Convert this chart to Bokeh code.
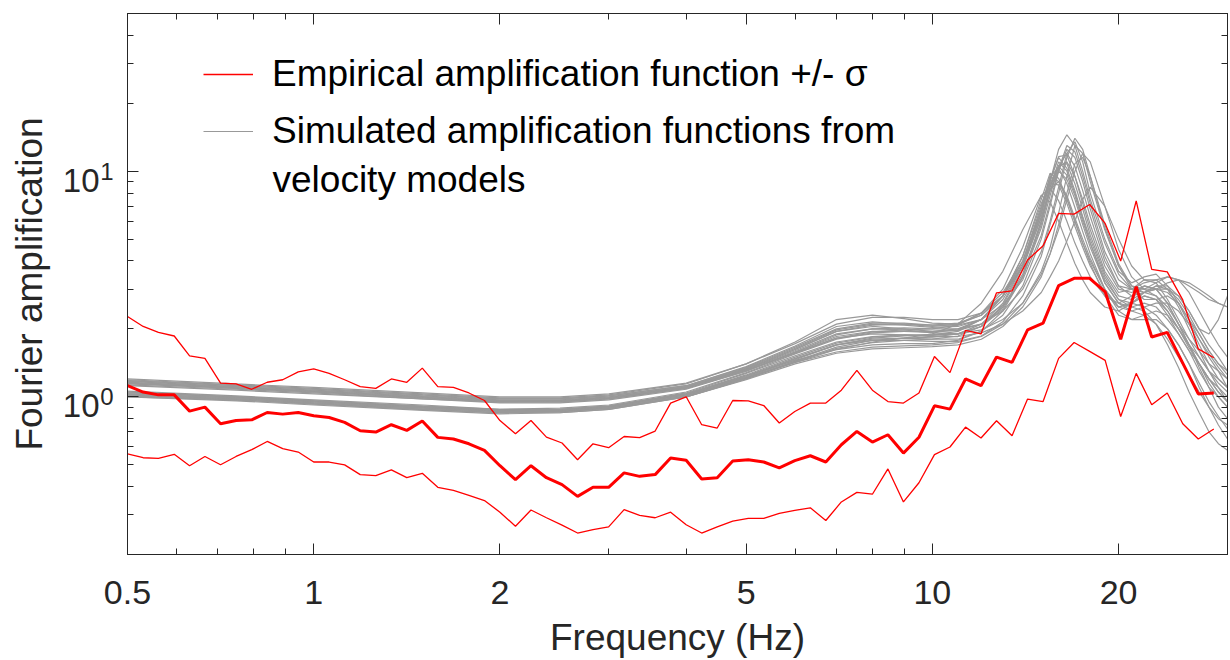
from bokeh.plotting import figure
from bokeh.models import (FixedTicker, LogAxis, CustomJSTickFormatter, Legend,
                          LegendItem, Label, Range1d)
from bokeh.embed import file_html
from bokeh.resources import INLINE

FONT = "Liberation Sans, Arial, Helvetica, sans-serif"
AX = "#262626"

# ---------------- data ----------------
# empirical amplification: 1/12-octave frequencies (Hz)
F_EMP = [0.500, 0.530, 0.561, 0.595, 0.630, 0.667, 0.707, 0.749, 0.794, 0.841,
         0.891, 0.944, 1.000, 1.059, 1.122, 1.189, 1.260, 1.335, 1.414, 1.498,
         1.587, 1.682, 1.782, 1.888, 2.000, 2.119, 2.245, 2.378, 2.520, 2.670,
         2.828, 2.997, 3.175, 3.364, 3.564, 3.775, 4.000, 4.238, 4.490, 4.757,
         5.040, 5.339, 5.657, 5.993, 6.350, 6.727, 7.127, 7.551, 8.000, 8.476,
         8.980, 9.514, 10.079, 10.679, 11.314, 11.986, 12.699, 13.454, 14.254, 15.102,
         16.000, 16.951, 17.959, 19.027, 20.159, 21.357, 22.627, 23.973, 25.398, 26.909,
         28.509]

EMP_MEAN = [1.12, 1.05, 1.02, 1.02, 0.864, 0.900, 0.759, 0.785, 0.791, 0.852,
            0.838, 0.852, 0.824, 0.810, 0.770, 0.707, 0.698, 0.752, 0.710, 0.781,
            0.661, 0.650, 0.619, 0.579, 0.495, 0.429, 0.495, 0.438, 0.408, 0.362,
            0.397, 0.397, 0.460, 0.444, 0.452, 0.535, 0.523, 0.432, 0.438, 0.519,
            0.526, 0.514, 0.484, 0.521, 0.548, 0.514, 0.613, 0.702, 0.630, 0.679,
            0.563, 0.662, 0.912, 0.882, 1.20, 1.12, 1.50, 1.42, 1.98, 2.12,
            3.11, 3.35, 3.35, 2.92, 1.80, 3.08, 1.84, 1.93, 1.41, 1.03,
            1.04]

EMP_PLUS = [2.27, 2.05, 1.93, 1.86, 1.52, 1.48, 1.15, 1.14, 1.08, 1.16,
            1.19, 1.29, 1.33, 1.27, 1.19, 1.11, 1.09, 1.20, 1.16, 1.34,
            1.11, 1.10, 1.04, 0.963, 0.785, 0.686, 0.785, 0.663, 0.624, 0.526,
            0.619, 0.595, 0.667, 0.659, 0.705, 0.938, 1.00, 0.752, 0.727, 0.963,
            0.960, 0.915, 0.765, 0.861, 0.938, 0.938, 1.07, 1.31, 1.07, 0.953,
            0.938, 1.04, 1.51, 1.28, 1.97, 1.90, 2.89, 2.95, 4.04, 4.67,
            6.50, 6.45, 7.12, 5.87, 4.00, 7.39, 3.67, 3.58, 2.69, 1.63,
            1.49]

EMP_MINUS = [0.558, 0.537, 0.533, 0.556, 0.495, 0.544, 0.500, 0.544, 0.583, 0.634,
             0.589, 0.569, 0.514, 0.514, 0.499, 0.452, 0.447, 0.474, 0.438, 0.458,
             0.397, 0.385, 0.366, 0.347, 0.308, 0.267, 0.315, 0.291, 0.270, 0.249,
             0.258, 0.265, 0.316, 0.298, 0.291, 0.308, 0.271, 0.249, 0.265, 0.281,
             0.289, 0.289, 0.304, 0.314, 0.322, 0.283, 0.342, 0.377, 0.370, 0.479,
             0.342, 0.416, 0.554, 0.599, 0.734, 0.657, 0.783, 0.672, 0.977, 0.953,
             1.48, 1.74, 1.59, 1.45, 0.818, 1.27, 0.922, 1.04, 0.759, 0.650,
             0.720]

# simulated amplification functions (velocity models)
F_SIM = [0.5, 0.75, 1, 1.5, 2, 2.5, 3, 4,
         5, 6, 7, 8, 9, 10, 11, 12,
         13, 14, 15, 15.5, 16, 16.5, 17, 17.5, 18,
         19, 20, 21, 22, 23, 24, 25, 26, 27, 28, 29, 30]

SIM = [
    [1.19,1.13,1.09,1.03,0.99,0.99,1.02,1.14, 1.40,1.75,2.20,2.30,2.22,2.12,2.10,2.30, 2.80,3.80,6.50,9.00,12.5,14.5,13.0,10.0,7.50, 4.80,3.50,3.00,2.90,2.80,2.50,2.10,1.80,1.60,1.40,1.30,1.20],
    [1.02,0.98,0.94,0.89,0.86,0.87,0.90,1.02, 1.24,1.45,1.62,1.70,1.72,1.72,1.78,1.95, 2.40,3.40,6.00,8.50,11.0,10.0,8.00,6.20,4.80, 3.20,2.60,2.50,2.60,2.50,2.20,1.90,1.60,1.40,1.20,1.10,1.00],
    [1.16,1.10,1.06,1.00,0.96,0.96,0.99,1.10, 1.33,1.62,1.95,2.05,2.00,1.95,2.00,2.20, 2.80,4.00,7.00,9.50,9.00,7.50,6.00,4.80,4.00, 3.00,2.50,2.60,2.80,2.70,2.40,2.00,1.70,1.50,1.30,1.20,1.10],
    [1.03,0.99,0.95,0.90,0.87,0.88,0.91,1.03, 1.22,1.42,1.58,1.66,1.68,1.70,1.74,1.85, 2.10,2.60,3.60,4.60,6.50,9.50,13.0,12.0,9.00, 5.50,3.80,3.00,2.70,2.70,2.80,2.60,2.20,1.90,1.60,1.40,1.30],
    [1.18,1.12,1.08,1.02,0.98,0.98,1.01,1.12, 1.36,1.68,2.05,2.15,2.10,2.05,2.10,2.35, 2.90,4.00,6.80,9.00,11.6,11.8,9.50,7.20,5.50, 3.60,2.90,3.00,3.30,3.20,2.70,2.20,1.80,1.50,1.30,1.15,1.05],
    [1.00,0.97,0.93,0.88,0.85,0.86,0.89,1.00, 1.20,1.42,1.62,1.75,1.82,1.90,2.10,2.60, 3.60,5.50,7.80,7.30,6.00,4.80,3.90,3.30,2.90, 2.50,2.40,2.60,2.80,2.70,2.30,1.90,1.60,1.30,1.10,1.00,0.90],
    [1.15,1.09,1.05,0.99,0.95,0.95,0.98,1.09, 1.30,1.58,1.88,2.00,2.02,2.00,2.00,2.10, 2.40,3.00,4.40,6.00,8.50,12.0,13.5,11.0,8.00, 5.00,3.60,3.20,3.40,3.50,3.10,2.60,2.10,1.70,1.40,1.20,1.10],
    [1.05,1.00,0.96,0.91,0.88,0.88,0.91,1.04, 1.27,1.52,1.75,1.85,1.88,1.88,1.90,2.05, 2.50,3.50,6.00,8.20,10.0,9.20,7.50,5.80,4.60, 3.20,2.60,2.40,2.30,2.10,1.80,1.50,1.25,1.05,0.90,0.80,0.75],
    [1.17,1.11,1.07,1.01,0.97,0.97,1.00,1.11, 1.32,1.60,1.90,2.00,1.98,1.92,1.90,1.98, 2.20,2.60,3.50,4.30,5.50,7.50,10.0,12.0,11.0, 7.00,4.50,3.40,3.00,3.00,3.00,2.80,2.40,2.00,1.70,1.50,1.30],
    [1.01,0.97,0.93,0.88,0.85,0.86,0.89,1.01, 1.21,1.44,1.66,1.78,1.82,1.84,1.90,2.10, 2.60,3.80,6.80,9.50,10.3,8.80,6.90,5.40,4.30, 3.00,2.40,2.20,2.20,2.20,2.00,1.70,1.40,1.10,0.90,0.75,0.65],
    [1.20,1.14,1.10,1.04,1.00,1.00,1.03,1.15, 1.40,1.72,2.10,2.25,2.25,2.20,2.20,2.35, 2.80,3.80,6.20,8.50,10.5,11.0,9.50,7.50,5.80, 3.80,3.00,2.90,3.10,3.00,2.60,2.10,1.70,1.40,1.15,1.00,0.90],
    [1.04,1.00,0.96,0.90,0.87,0.87,0.90,1.02, 1.23,1.47,1.70,1.80,1.82,1.80,1.80,1.95, 2.30,3.10,5.00,7.00,10.0,12.5,11.5,9.00,6.80, 4.20,3.10,2.80,2.90,3.00,2.90,2.60,2.20,1.80,1.50,1.30,1.10],
    [1.13,1.08,1.04,0.98,0.95,0.95,0.98,1.09, 1.31,1.58,1.85,1.95,1.95,1.93,1.98,2.20, 2.80,4.20,7.20,8.80,8.70,7.20,5.70,4.60,3.80, 2.90,2.50,2.60,2.90,3.10,3.00,2.70,2.30,1.90,1.60,1.40,1.25],
    [1.00,0.96,0.92,0.87,0.84,0.85,0.88,1.00, 1.19,1.40,1.56,1.63,1.65,1.67,1.70,1.80, 2.05,2.50,3.40,4.30,5.80,8.00,10.8,11.5,9.50, 5.80,3.90,3.10,2.90,3.00,3.20,3.30,3.20,3.00,2.80,2.60,2.50],
    [1.14,1.09,1.05,0.99,0.95,0.96,0.99,1.10, 1.33,1.62,1.95,2.08,2.10,2.08,2.12,2.30, 2.80,3.90,6.50,8.80,10.5,9.60,7.80,6.00,4.80, 3.30,2.70,2.60,2.50,2.30,2.00,1.70,1.40,1.15,0.95,0.82,0.72],
    [1.06,1.01,0.97,0.92,0.88,0.89,0.92,1.05, 1.28,1.55,1.80,1.92,1.95,1.95,1.97,2.10, 2.50,3.40,5.60,7.80,10.5,12.0,10.5,8.20,6.30, 4.00,3.10,3.00,3.20,3.30,3.00,2.50,2.00,1.60,1.30,1.10,0.95],
    [1.16,1.10,1.06,1.00,0.96,0.96,0.99,1.10, 1.31,1.57,1.82,1.90,1.88,1.85,1.85,1.92, 2.10,2.40,2.90,3.40,4.00,4.90,6.00,7.50,8.50, 7.00,5.00,3.80,3.30,3.30,3.40,3.30,3.10,2.90,2.70,2.60,2.50],
    [1.02,0.98,0.94,0.89,0.86,0.86,0.89,1.01, 1.22,1.46,1.70,1.82,1.86,1.88,1.95,2.20, 2.80,4.20,7.50,9.80,9.30,7.60,6.00,4.80,3.90, 2.80,2.30,2.20,2.30,2.40,2.30,2.00,1.70,1.40,1.20,1.05,0.95],
    [1.18,1.12,1.08,1.02,0.98,0.98,1.01,1.12, 1.35,1.66,2.00,2.12,2.12,2.08,2.08,2.20, 2.55,3.30,5.20,7.30,10.2,13.0,12.2,9.50,7.20, 4.40,3.30,3.00,3.00,2.80,2.40,2.00,1.65,1.40,1.20,1.05,0.95],
    [1.03,0.99,0.95,0.90,0.87,0.87,0.90,1.03, 1.25,1.50,1.73,1.84,1.87,1.87,1.90,2.05, 2.45,3.40,5.80,8.20,10.6,10.8,8.80,6.80,5.20, 3.50,2.80,2.70,2.90,3.10,3.10,2.80,2.40,2.00,1.90,2.20,2.80],
    [1.12,1.07,1.03,0.98,0.94,0.94,0.97,1.08, 1.30,1.56,1.82,1.94,1.98,2.00,2.08,2.35, 3.00,4.60,7.80,8.40,7.40,6.00,4.80,4.00,3.40, 2.80,2.60,2.80,3.10,3.00,2.60,2.10,1.70,1.35,1.10,0.90,0.80],
    [1.05,1.00,0.96,0.91,0.87,0.88,0.91,1.03, 1.24,1.48,1.70,1.78,1.78,1.76,1.76,1.86, 2.15,2.80,4.20,5.80,8.00,11.5,14.0,12.5,9.50, 5.60,3.80,3.10,3.00,3.20,3.40,3.30,2.90,2.40,2.00,1.70,1.50],
    [1.15,1.10,1.06,1.00,0.96,0.96,0.99,1.11, 1.34,1.64,1.98,2.10,2.08,2.03,2.05,2.20, 2.70,3.80,6.60,9.20,11.5,10.3,8.20,6.30,5.00, 3.40,2.70,2.50,2.40,2.10,1.70,1.35,1.05,0.85,0.70,0.62,0.58],
    [1.01,0.97,0.93,0.88,0.85,0.85,0.88,1.00, 1.20,1.43,1.64,1.74,1.78,1.80,1.86,2.05, 2.55,3.70,6.30,8.30,9.00,7.80,6.20,5.00,4.10, 3.00,2.50,2.40,2.50,2.60,2.60,2.40,2.10,1.80,1.55,1.35,1.20],
]

X_RANGE = (0.5, 30)
Y_RANGE = (0.2, 50)
X_TICKS = [0.5, 1, 2, 5, 10, 20]
X_MINOR = [0.6, 0.7, 0.8, 0.9, 3, 4, 6, 7, 8, 9, 30]
Y_TICKS = [1, 10]
Y_TICK_BASE = ["10", "10"]
Y_TICK_EXP = ["0", "1"]
Y_MINOR = [0.2, 0.3, 0.4, 0.5, 0.6, 0.7, 0.8, 0.9, 2, 3, 4, 5, 6, 7, 8, 9, 20, 30, 40, 50]

LEG_EMP = "Empirical amplification function +/- \u03c3"
LEG_SIM_1 = "Simulated amplification functions from"
LEG_SIM_2 = "velocity models"

# ---------------- figure ----------------
p = figure(width=1230, height=660, x_axis_type="log", y_axis_type="log",
           x_range=X_RANGE, y_range=Y_RANGE, output_backend="svg",
           toolbar_location=None, min_border_left=127, min_border_right=3,
           min_border_top=13, min_border_bottom=105)
p.background_fill_color = "white"
p.border_fill_color = "white"
p.outline_line_color = AX
p.xgrid.visible = False
p.ygrid.visible = False

sim_renderers = []
for curve in SIM:
    r = p.line(F_SIM, curve, line_color="#999999", line_width=1.2)
    sim_renderers.append(r)

r_plus = p.line(F_EMP, EMP_PLUS, line_color="#ff0000", line_width=1.3)
r_minus = p.line(F_EMP, EMP_MINUS, line_color="#ff0000", line_width=1.3)
r_mean = p.line(F_EMP, EMP_MEAN, line_color="#ff0000", line_width=3)


def style_axis(ax, ticks, minor):
    ax.ticker = FixedTicker(ticks=ticks, minor_ticks=minor)
    ax.axis_line_color = AX
    ax.major_tick_line_color = AX
    ax.minor_tick_line_color = AX
    ax.major_tick_in = 11
    ax.major_tick_out = 0
    ax.minor_tick_in = 6
    ax.minor_tick_out = 0
    ax.major_label_text_font = FONT
    ax.major_label_text_color = AX
    ax.axis_label_text_font = FONT
    ax.axis_label_text_font_style = "normal"
    ax.axis_label_text_color = AX


def label_formatter(values, texts):
    return CustomJSTickFormatter(
        args=dict(vals=values, txts=texts),
        code="const k = vals.indexOf(tick); return k >= 0 ? txts[k] : '';")


xa = p.xaxis[0]
style_axis(xa, X_TICKS, X_MINOR)
xa.formatter = CustomJSTickFormatter(code="return tick.toString();")
xa.major_label_text_font_size = "34px"
xa.major_label_standoff = 26
xa.axis_label = "Frequency (Hz)"
xa.axis_label_text_font_size = "37px"
xa.axis_label_standoff = 10

# inner left axis: ticks + exponent (superscript) labels
ya = p.yaxis[0]
style_axis(ya, Y_TICKS, Y_MINOR)
ya.formatter = label_formatter(Y_TICKS, Y_TICK_EXP)
ya.major_label_text_font_size = "24px"
ya.major_label_standoff = 14

# outer left axis: mantissa "10" labels, drawn slightly lower (as in a 10^n label)
shift = 10 ** (9 / 226)
p.extra_y_ranges = {"mant": Range1d(Y_RANGE[0] * shift, Y_RANGE[1] * shift)}
ym = LogAxis(y_range_name="mant")
style_axis(ym, Y_TICKS, [])
ym.formatter = label_formatter(Y_TICKS, Y_TICK_BASE)
ym.axis_line_color = None
ym.major_tick_line_color = None
ym.minor_tick_line_color = None
ym.major_tick_in = 0
ym.minor_tick_in = 0
ym.major_label_text_font_size = "33px"
ym.major_label_standoff = -2
ym.axis_label = "Fourier amplification"
ym.axis_label_text_font_size = "37px"
ym.axis_label_standoff = 10
p.add_layout(ym, "left")

top = LogAxis(formatter=CustomJSTickFormatter(code="return '';"))
style_axis(top, X_TICKS, X_MINOR)
top.major_label_text_font_size = "0px"
top.major_label_standoff = 0
p.add_layout(top, "above")

right = LogAxis(formatter=CustomJSTickFormatter(code="return '';"))
style_axis(right, Y_TICKS, Y_MINOR)
right.major_label_text_font_size = "0px"
right.major_label_standoff = 0
p.add_layout(right, "right")

legend = Legend(items=[LegendItem(label=LEG_EMP, renderers=[r_plus]),
                       LegendItem(label=LEG_SIM_1, renderers=[sim_renderers[0]])],
                location=(76, 402), orientation="vertical")
legend.border_line_color = None
legend.background_fill_alpha = 0
legend.padding = 0
legend.margin = 0
legend.spacing = 15
legend.glyph_width = 50
legend.glyph_height = 42
legend.label_height = 42
legend.label_standoff = 19
legend.label_text_font = FONT
legend.label_text_font_size = "37px"
legend.label_text_color = "black"
p.add_layout(legend)

p.add_layout(Label(x=145, y=375, x_units="screen", y_units="screen", text=LEG_SIM_2,
                   text_align="left", text_baseline="middle",
                   text_font=FONT, text_font_size="37px", text_color="black"))

open("out.html", "w").write(file_html(p, INLINE))
